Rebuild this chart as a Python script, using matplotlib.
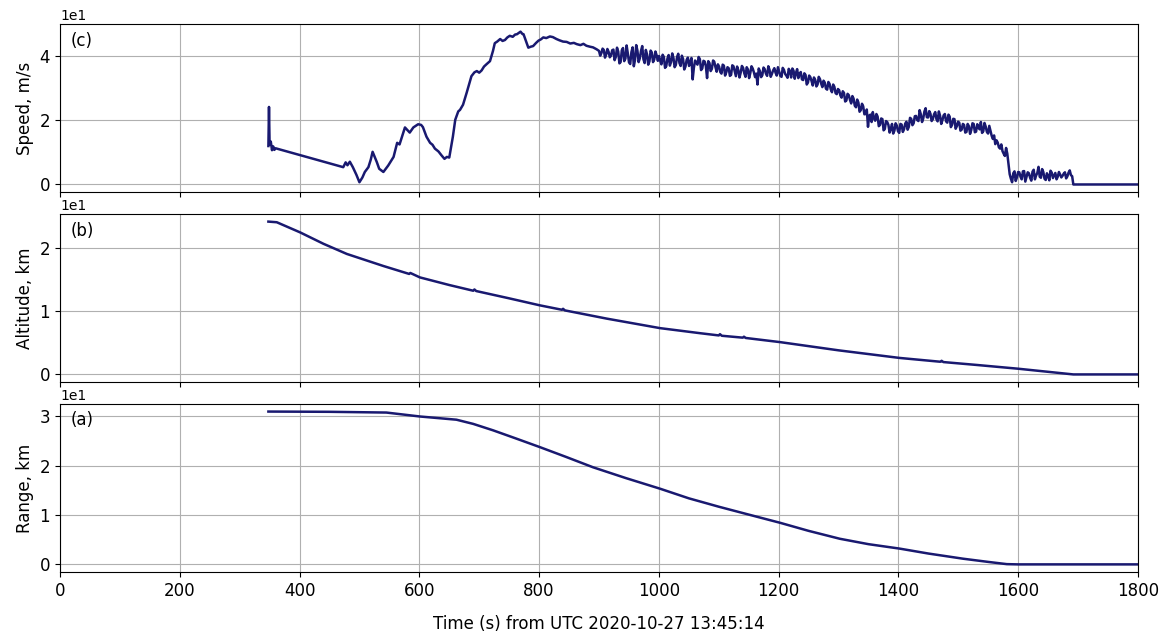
import numpy as np
import matplotlib
matplotlib.use('Agg')
import matplotlib.pyplot as plt

# speed, m/s  (smooth-ish part read point by point)
speed_t = [348, 349, 350, 352, 354, 356, 358, 360, 473, 477, 480, 484, 489, 495, 500, 505,
           509, 515, 519, 522, 526, 529, 533, 540, 548, 557, 563, 567, 572, 576, 580, 584,
           590, 598, 603, 606, 612, 618, 622, 626, 632, 637, 642, 646, 650, 656, 660, 665,
           668, 673, 679, 687, 692, 696, 700, 704, 708, 712, 718, 723, 726, 730, 735, 739,
           743, 747, 751, 756, 760, 763, 766, 769, 772, 774, 778, 782, 786, 790, 795, 799,
           803, 807, 812, 818, 823, 829, 834, 840, 846, 852, 858, 863, 869, 874, 879, 885,
           890, 896]
speed_v = [12.0, 24.2, 12.5, 13.4, 10.7, 11.9, 10.8, 11.3, 5.4, 6.9, 6.0, 7.1, 5.4, 3.0, 0.7, 2.2,
           3.9, 5.4, 7.8, 10.2, 8.4, 7.0, 4.9, 3.9, 5.9, 8.6, 13.0, 12.5, 15.4, 17.8, 17.0, 16.2,
           17.8, 18.8, 18.6, 17.9, 14.9, 13.0, 12.4, 11.2, 10.3, 9.1, 8.0, 8.6, 8.4, 14.9, 20.2, 22.8,
           23.3, 24.9, 28.6, 33.8, 35.0, 35.4, 34.9, 35.6, 36.8, 37.5, 38.5, 41.7, 44.1, 44.6, 45.4, 44.8,
           45.1, 45.9, 46.4, 46.1, 46.8, 46.9, 47.3, 47.7, 47.0, 46.9, 44.8, 42.7, 43.0, 43.2, 44.2, 44.9,
           45.3, 45.9, 45.7, 46.2, 46.0, 45.4, 45.0, 44.6, 44.5, 44.0, 44.2, 43.8, 43.5, 43.9, 43.3, 43.0,
           42.8, 42.2]

# noisy part, 900 s .. 1690 s, evenly sampled
speed_noisy = [
    41.7, 41.0, 42.0, 40.6, 41.4, 40.2, 42.1, 39.8, 41.5, 38.2, 42.6, 39.3, 40.9, 37.6, 42.8, 38.9, 41.8, 39.4, 43.2, 37.9, 40.6, 38.4, 41.2, 39.0, 40.3,
    40.1, 37.5, 39.8, 36.9, 40.4, 38.2, 39.5, 37.3, 40.8, 37.0, 39.2, 36.8, 39.6, 38.1, 32.8, 38.7, 37.4, 39.1, 36.2, 38.4, 33.2, 37.9, 36.1, 38.3, 35.2,
    36.8, 34.6, 37.1, 35.0, 36.3, 34.2, 36.9, 33.8, 35.7, 34.9, 36.4, 33.6, 35.9, 34.8, 36.2, 33.5, 31.2, 35.4, 34.1, 36.0, 33.9, 35.8, 34.5, 36.3, 34.0,
    35.2, 33.6, 35.8, 34.0, 36.1, 33.4, 35.5, 34.8, 33.2, 35.1, 32.6, 34.2, 31.8, 33.5, 30.9, 32.7, 31.2, 32.9, 30.4, 31.8, 29.6, 31.4, 28.8, 30.5, 28.2,
    29.4, 27.1, 28.6, 26.2, 27.9, 25.3, 26.8, 24.1, 25.6, 23.2, 24.4, 22.0, 18.0, 21.8, 22.6, 19.9, 21.2, 18.6, 20.4, 17.3, 19.5, 16.2, 18.9, 16.8, 18.4,
    16.1, 18.7, 17.2, 19.6, 18.0, 20.5, 19.1, 21.4, 19.8, 21.9, 20.6, 23.8, 20.9, 22.1, 20.4, 22.6, 19.7, 21.5, 20.1, 22.0, 19.3, 21.2, 18.6, 20.4, 18.2,
    19.3, 17.1, 18.6, 16.4, 18.2, 17.0, 18.9, 16.5, 17.8, 19.5, 16.6, 18.1, 15.9, 16.8, 14.2, 12.6, 13.1, 11.2, 10.4, 8.9, 9.6, 3.2, 0.7, 4.1, 2.2,
    3.8, 1.6, 4.2, 2.3, 3.5, 1.2, 4.6, 2.8, 5.5, 2.1, 3.9, 1.4, 2.6, 4.3, 2.0, 3.6, 2.4, 3.1, 2.7, 3.8, 2.5, 4.4, 2.6]
# samples in between the ones above, 902 s .. 1688 s
speed_noisy_mid = [
    40.2, 42.4, 39.6, 42.3, 39.7, 41.9, 38.8, 42.7, 37.8, 41.9, 38.5, 43.4, 38.1, 41.3, 36.9, 43.5, 38.2, 41.7, 39.1, 42.0, 37.4, 41.8, 38.2, 41.5, 38.6,
    38.6, 40.5, 36.4, 39.3, 37.1, 40.9, 36.6, 39.8, 37.9, 40.2, 35.9, 38.9, 37.0, 39.5, 36.4, 38.0, 39.8, 35.7, 38.6, 36.9, 38.5, 35.4, 38.7, 36.6, 37.5,
    35.1, 37.4, 34.0, 36.6, 33.9, 37.2, 35.3, 36.8, 33.4, 37.0, 34.7, 36.6, 33.2, 36.9, 35.0, 34.6, 36.2, 33.5, 36.5, 34.6, 36.9, 33.6, 35.6, 34.9, 36.6,
    33.9, 36.4, 34.5, 33.3, 35.4, 36.2, 33.0, 36.0, 34.6, 32.8, 34.7, 31.2, 34.0, 32.3, 33.4, 30.6, 33.6, 31.5, 32.4, 29.9, 32.0, 29.7, 31.2, 28.5, 29.8,
    27.8, 29.1, 25.9, 28.3, 26.4, 27.6, 24.6, 26.5, 22.7, 25.2, 21.9, 23.4, 21.5, 19.5, 20.7, 22.0, 18.2, 20.6, 16.9, 19.8, 18.6, 17.4, 15.9, 19.1, 16.6,
    18.9, 16.4, 19.0, 17.1, 20.8, 18.5, 21.3, 20.1, 23.2, 19.5, 22.8, 21.0, 22.9, 19.8, 21.9, 20.4, 22.8, 18.9, 21.6, 19.7, 21.8, 17.9, 20.5, 17.4, 19.6,
    16.8, 18.9, 16.2, 18.9, 15.8, 19.1, 16.3, 18.8, 17.2, 16.1, 19.2, 16.4, 18.3, 15.2, 15.3, 13.8, 11.6, 12.5, 9.6, 11.4, 6.5, 1.8, 3.5, 1.1, 3.9,
    2.4, 4.1, 0.9, 3.8, 2.1, 4.0, 1.6, 3.6, 2.4, 4.8, 1.8, 3.5, 1.3, 3.7, 2.8, 1.6, 3.9, 2.2, 3.4, 1.9, 3.7, 2.9]
speed_end_t = [1692, 1800]
speed_end_v = [0.0, 0.0]

# altitude, km
alt_t = [348, 362, 401, 440, 479, 540, 583, 585, 601, 650, 690, 692, 695, 750, 801, 838, 840, 843,
         913, 1002, 1069, 1100, 1102, 1105, 1140, 1142, 1145, 1202, 1300, 1402, 1470, 1472, 1475,
         1530, 1600, 1692, 1800]
alt_v = [24.1, 24.0, 22.4, 20.6, 19.0, 17.1, 15.85, 16.0, 15.3, 14.1, 13.2, 13.4, 13.15, 12.0, 10.9, 10.2, 10.35, 10.1,
         8.8, 7.3, 6.5, 6.15, 6.35, 6.1, 5.8, 5.95, 5.75, 5.1, 3.8, 2.6, 2.0, 2.15, 1.95,
         1.5, 0.9, 0.0, 0.0]

# range, km
rng_t = [348, 450, 545, 601, 662, 690, 723, 760, 801, 845, 890, 945, 1002, 1050, 1100, 1150,
         1202, 1250, 1302, 1350, 1402, 1450, 1508, 1550, 1581, 1600, 1800]
rng_v = [31.0, 30.95, 30.8, 30.0, 29.35, 28.5, 27.2, 25.6, 23.8, 21.8, 19.7, 17.5, 15.35, 13.4, 11.7, 10.1,
         8.45, 6.8, 5.2, 4.1, 3.2, 2.2, 1.15, 0.5, 0.05, 0.0, 0.0]

color = '#191970'

# merge the two noisy sample sets in time order
t_noisy = np.concatenate([np.linspace(900, 1690, len(speed_noisy)),
                          np.linspace(902, 1688, len(speed_noisy_mid))])
v_noisy = np.concatenate([speed_noisy, speed_noisy_mid])
order = np.argsort(t_noisy, kind='stable')
t_speed = np.concatenate([speed_t, t_noisy[order], speed_end_t])
v_speed = np.concatenate([speed_v, v_noisy[order], speed_end_v])

fig, axes = plt.subplots(3, 1, sharex=True, figsize=(11.69, 6.37), dpi=100)
fig.subplots_adjust(left=0.0513, right=0.9735, top=0.9623, bottom=0.102, hspace=0.13)

panels = [
    (axes[0], t_speed, v_speed, 'Speed, m/s', '(c)', [0, 20, 40]),
    (axes[1], alt_t, alt_v, 'Altitude, km', '(b)', [0, 10, 20]),
    (axes[2], rng_t, rng_v, 'Range, km', '(a)', [0, 10, 20, 30]),
]
for ax, x, y, lab, tag, ticks in panels:
    ax.plot(x, y, color=color, lw=1.8)
    ax.set_ylabel(lab, fontsize=12)
    ax.set_yticks(ticks)
    ax.ticklabel_format(axis='y', style='sci', scilimits=(0, 0))
    ax.tick_params(labelsize=12)
    ax.grid(True)
    ax.text(0.01, 0.955, tag, transform=ax.transAxes, ha='left', va='top', fontsize=12)

axes[2].set_xlim(0, 1800)
axes[2].set_xticks(np.arange(0, 1801, 200))
axes[2].set_xlabel('Time (s) from UTC 2020-10-27 13:45:14', fontsize=12, labelpad=11)

plt.savefig('out.png')
